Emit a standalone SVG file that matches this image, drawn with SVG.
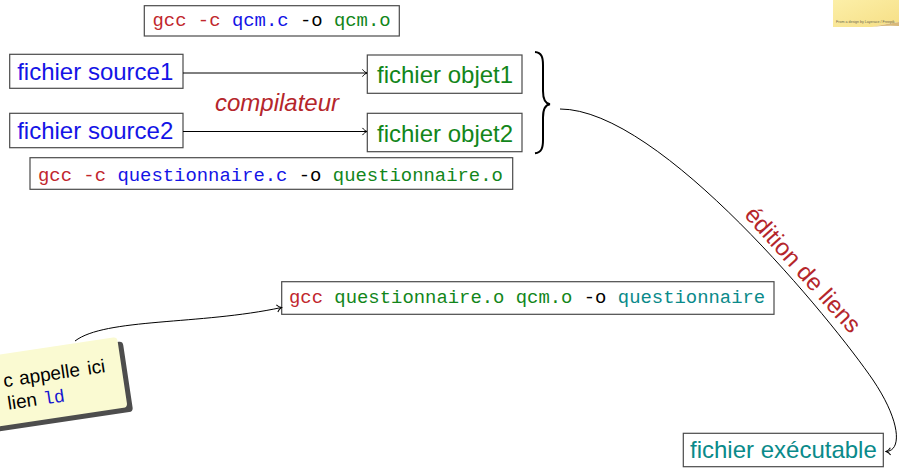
<svg xmlns="http://www.w3.org/2000/svg" width="899" height="469" viewBox="0 0 899 469">
<defs>
<style>
.box{fill:#fff;stroke:#4a4a4a;stroke-width:1.2}
.sans{font-family:"Liberation Sans",Arial,sans-serif;font-size:24px}
.mono{font-family:"Liberation Mono","Courier New",monospace;font-size:18.9px}
.r{fill:#c1272d}.b{fill:#1414e6}.g{fill:#12861a}.t{fill:#0a8a8a}.k{fill:#000}
.edge{fill:none;stroke:#000;stroke-width:1}
</style>
<marker id="arr" viewBox="-6 -5 7 10" markerWidth="7" markerHeight="10" refX="0" refY="0" orient="auto" markerUnits="userSpaceOnUse">
<path d="M-4.5,-3.6 C-3.2,-1.6 -1.2,-0.4 0,0 C-1.2,0.4 -3.2,1.6 -4.5,3.6" fill="none" stroke="#000" stroke-width="1"/>
</marker>
<linearGradient id="sticky" x1="0" y1="0" x2="1" y2="1">
<stop offset="0" stop-color="#fcefa8"/>
<stop offset="1" stop-color="#f6df86"/>
</linearGradient>
</defs>
<rect width="899" height="469" fill="#fff"/>

<g id="sticky-corner">
<path d="M833,0 H899 V22 Q885,24 872,27 H833 Z" fill="url(#sticky)"/>
<path d="M872,27 Q885,24 899,22 V26 Q886,25 872,27 Z" fill="#d9b97a"/>
<text x="836" y="22.5" font-family="Liberation Sans,Arial,sans-serif" font-size="3.6" fill="#6b6650">From a design by Layerace / Freepik</text>
</g>

<g id="cmd-qcm">
<rect class="box" x="144.3" y="5.7" width="255" height="30.3"/>
<text class="mono" x="152.5" y="26"><tspan class="r">gcc -c</tspan> <tspan class="b">qcm.c</tspan> <tspan class="k">-o</tspan> <tspan class="g">qcm.o</tspan></text>
</g>

<g id="source1">
<rect class="box" x="9.7" y="54.3" width="173.3" height="34"/>
<text class="sans b" x="17.2" y="80">fichier source1</text>
</g>
<g id="source2">
<rect class="box" x="9.7" y="113.3" width="173.3" height="34.4"/>
<text class="sans b" x="17.2" y="139">fichier source2</text>
</g>
<g id="objet1">
<rect class="box" x="367.3" y="55" width="154.7" height="38.3"/>
<text class="sans g" x="377" y="83">fichier objet1</text>
</g>
<g id="objet2">
<rect class="box" x="367.3" y="113.3" width="154.7" height="38.4"/>
<text class="sans g" x="377" y="141.5">fichier objet2</text>
</g>

<g id="compilateur-label">
<text class="sans" x="277" y="111" text-anchor="middle" font-style="italic" fill="#b5262b">compilateur</text>
</g>

<g id="brace">
<path d="M535,52 C541.5,52.5 543,57 543,65 L543,91 C543,99 545,103.5 550,104.3 C545,105 543,109.5 543,117.5 L543,140 C543,148 541.5,152.5 535,153.3" fill="none" stroke="#000" stroke-width="2"/>
</g>

<g id="cmd-questionnaire">
<rect class="box" x="30" y="157.7" width="482.7" height="31.6"/>
<text class="mono" x="38" y="181"><tspan class="r">gcc -c</tspan> <tspan class="b">questionnaire.c</tspan> <tspan class="k">-o</tspan> <tspan class="g">questionnaire.o</tspan></text>
</g>

<g id="cmd-link">
<rect class="box" x="281.7" y="281.7" width="492.3" height="32.6"/>
<text class="mono" x="289" y="302.7"><tspan class="r">gcc</tspan> <tspan class="g">questionnaire.o qcm.o</tspan> <tspan class="k">-o</tspan> <tspan class="t">questionnaire</tspan></text>
</g>

<g id="executable">
<rect class="box" x="683.3" y="433.3" width="200" height="33.4"/>
<text class="sans t" x="690" y="457.5">fichier exécutable</text>
</g>

<g id="note">
<g transform="rotate(-8.5 117 337)">
<rect x="-60" y="342" width="182" height="71" rx="4" fill="#4d4d4d"/>
<rect x="-65" y="337" width="182" height="71" rx="4" fill="#fafad2"/>
<text font-family="Liberation Sans,Arial,sans-serif" font-size="19" fill="#000"><tspan x="-2" y="370">c</tspan><tspan x="14" y="370">appelle</tspan><tspan x="83" y="370">ici</tspan><tspan x="-1" y="393">lien</tspan></text>
<text x="35" y="393" font-family="Liberation Mono,Courier New,monospace" font-size="18" fill="#1414d0">ld</text>
</g>
</g>

<g id="connectors">
<path class="edge" d="M183,73 H367" marker-end="url(#arr)"/>
<path class="edge" d="M183,131.5 H367" marker-end="url(#arr)"/>
<path class="edge" d="M560,109 C661,109 834,323 873,380 C901,421.5 902,451 886,451.5" marker-end="url(#arr)"/>
<path class="edge" d="M75,341 C105,318 200,325 281.5,307.5" marker-end="url(#arr)"/>
<text class="sans" transform="translate(797 275) rotate(48)" text-anchor="middle" fill="#b5262b">édition de liens</text>
</g>
</svg>
